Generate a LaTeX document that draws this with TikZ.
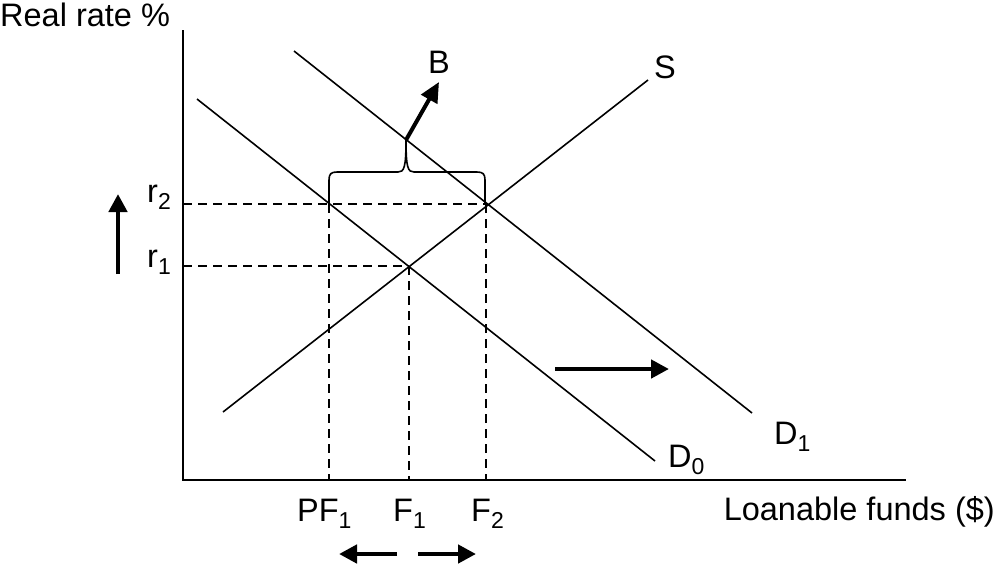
\documentclass[tikz,border=0pt]{standalone}
\usepackage{fontspec}
\setmainfont{Liberation Sans}
\usetikzlibrary{arrows.meta}
\newcommand\lsub[1]{\raisebox{-7pt}{\fontsize{23}{23}\selectfont #1}}
\begin{document}
\begin{tikzpicture}[x=1pt,y=-1pt,
  curve/.style={line width=1.6pt},
  axisline/.style={line width=2.2pt},
  guide/.style={line width=1.3pt, dash pattern=on 9pt off 6pt},
  bigarrow/.style={line width=4.5pt, -{Triangle[length=18pt,width=18pt]}},
  lbl/.style={inner sep=0pt, font=\fontsize{32.5}{38}\selectfont}]
\useasboundingbox (0,0) rectangle (996,566);
% axes
\coordinate (ytop) at (183,30);
\coordinate (orig) at (183,480);
\coordinate (xend) at (906,480);
\draw[axisline] (ytop) -- (orig) -- (xend);
% curves
\coordinate (S0) at (223,412); \coordinate (S1) at (648,80);
\coordinate (Da) at (197,99);  \coordinate (Db) at (655,461);
\coordinate (Ea) at (294,51);  \coordinate (Eb) at (752,413);
\draw[curve] (S0) -- (S1);
\draw[curve] (Da) -- (Db);
\draw[curve] (Ea) -- (Eb);
% equilibrium points
\coordinate (E1) at (409,266);
\coordinate (E2) at (486,204);
\coordinate (P1) at (329,204);
\coordinate (r1a) at (183,266);
\coordinate (r2a) at (183,204);
\coordinate (x1) at (409,480);
\coordinate (x2) at (486,480);
\coordinate (xp) at (329,480);
\draw[guide] (r2a) -- (E2);
\draw[guide] (r1a) -- (E1);
\draw[guide] (P1) -- (xp);
\draw[guide] (E1) -- (x1);
\draw[guide] (E2) -- (x2);
% brace
\coordinate (cusp) at (406,140);
\draw[line width=1.6pt] (329,203) -- (329,180) .. controls (329,174) and (331,172) .. (337,172) -- (398,172) .. controls (404,172) and (406,168) .. (cusp);
\draw[line width=1.6pt] (cusp) .. controls (406,168) and (408,172) .. (414,172) -- (477,172) .. controls (483,172) and (485,174) .. (485,180) -- (485,203);
\coordinate (Btip) at (439,82);
\draw[line width=4pt, -{Triangle[length=20pt,width=18pt]}] (cusp) -- (Btip);
% arrows
\coordinate (ua) at (118,274); \coordinate (ub) at (118,194);
\draw[bigarrow] (ua) -- (ub);
\coordinate (ra) at (555,369); \coordinate (rb) at (669,369);
\draw[bigarrow] (ra) -- (rb);
\coordinate (la) at (397,554); \coordinate (lb) at (339,554);
\draw[bigarrow] (la) -- (lb);
\coordinate (qa) at (418,554); \coordinate (qb) at (476,554);
\draw[bigarrow] (qa) -- (qb);
% labels
\node[lbl, anchor=base west] (yl) at (0,26) {Real rate \%};
\node[lbl, anchor=base east] (xl) at (995,520) {Loanable funds (\$)};
\node[lbl, anchor=base] (B) at (439,73) {B};
\node[lbl, anchor=base west] (S) at (654,78) {S};
\node[lbl, anchor=base west] (r2) at (147,202) {r\lsub{2}};
\node[lbl, anchor=base west] (r1) at (147,267) {r\lsub{1}};
\node[lbl, anchor=base west] (D0) at (668,467) {D\lsub{0}};
\node[lbl, anchor=base west] (D1) at (774,444) {D\lsub{1}};
\node[lbl, anchor=base west] (PF1) at (297,521) {PF\lsub{1}};
\node[lbl, anchor=base west] (F1) at (393,521) {F\lsub{1}};
\node[lbl, anchor=base west] (F2) at (471,521) {F\lsub{2}};
\end{tikzpicture}
\end{document}
